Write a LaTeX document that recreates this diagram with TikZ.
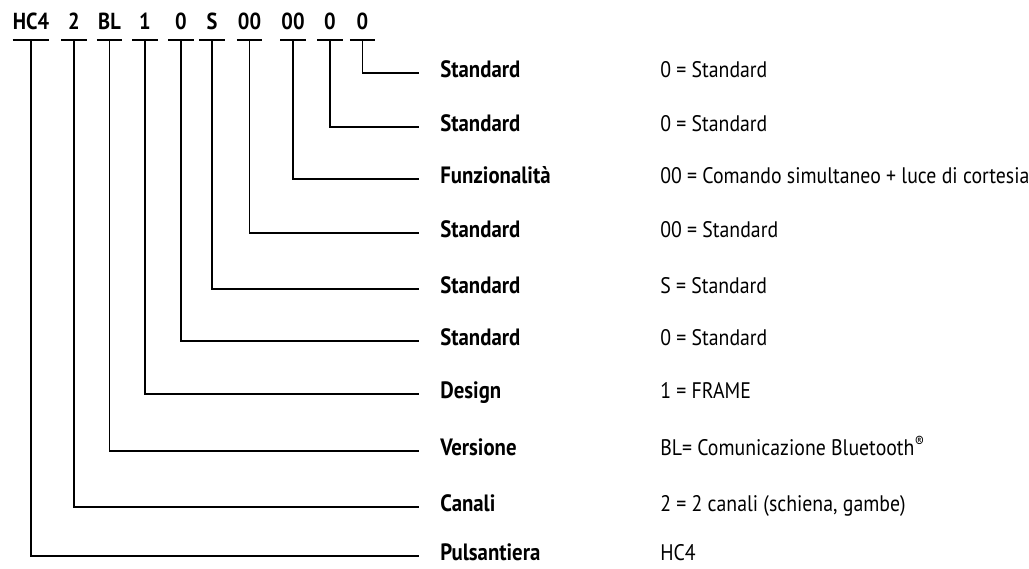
\documentclass[tikz,border=0pt]{standalone}
\usepackage{fontspec}
\setmainfont{PT Sans}[FakeStretch=0.88]
\begin{document}
\begin{tikzpicture}[
    x=0.025cm, y=-0.025cm,
    code/.style={anchor=south, font=\bfseries\fontsize{16.5}{19}\selectfont, inner xsep=0pt, inner ysep=7pt, minimum width=0.62cm},
    key/.style={anchor=west, font=\bfseries\fontsize{16.8}{19}\selectfont, inner xsep=15pt, inner ysep=0pt, text height=11pt, text depth=4pt},
    desc/.style={anchor=west, font=\fontsize{16}{19}\selectfont, inner sep=0pt, text height=11pt, text depth=4pt},
    bar/.style={line width=2pt},
    link/.style={line width=0.9pt}
]
    \useasboundingbox (0,0) rectangle (1029,569);

    % code segments
    \node[code] (hc4) at (31,40) {HC4};
    \node[code] (ch) at (74,40) {2};
    \node[code] (ver) at (109.5,40) {BL};
    \node[code] (des) at (145,40) {1};
    \node[code] (stdA) at (181,40) {0};
    \node[code] (stdB) at (212,40) {S};
    \node[code] (stdC) at (249.5,40) {00};
    \node[code] (fun) at (293,40) {00};
    \node[code] (stdD) at (330,40) {0};
    \node[code] (stdE) at (362.5,40) {0};
    \foreach \n in {hc4,ch,ver,des,stdA,stdB,stdC,fun,stdD,stdE}
        \draw[bar] (\n.south west) -- (\n.south east);

    % keys
    \node[key] (kE) at (419,73) {Standard};
    \node[key] (kD) at (419,127) {Standard};
    \node[key] (kfun) at (419,179) {Funzionalità};
    \node[key] (kC) at (419,233) {Standard};
    \node[key] (kB) at (419,289) {Standard};
    \node[key] (kA) at (419,341) {Standard};
    \node[key] (kdes) at (419,394) {Design};
    \node[key] (kver) at (419,451) {Versione};
    \node[key] (kch) at (419,507) {Canali};
    \node[key] (khc4) at (419,556) {Pulsantiera};

    % values
    \node[desc] (vE) at (660,73) {0 = Standard};
    \node[desc] (vD) at (660,127) {0 = Standard};
    \node[desc] (vfun) at (660,179) {00 = Comando simultaneo + luce di cortesia};
    \node[desc] (vC) at (660,233) {00 = Standard};
    \node[desc] (vB) at (660,289) {S = Standard};
    \node[desc] (vA) at (660,341) {0 = Standard};
    \node[desc] (vdes) at (660,394) {1 = FRAME};
    \node[desc] (vver) at (660,451) {BL= Comunicazione Bluetooth\textsuperscript{®}};
    \node[desc] (vch) at (660,507) {2 = 2 canali (schiena, gambe)};
    \node[desc] (vhc4) at (660,556) {HC4};

    % connectors
    \draw[link] (stdE.south) |- (kE.west);
    \draw[link] (stdD.south) |- (kD.west);
    \draw[link] (fun.south) |- (kfun.west);
    \draw[link] (stdC.south) |- (kC.west);
    \draw[link] (stdB.south) |- (kB.west);
    \draw[link] (stdA.south) |- (kA.west);
    \draw[link] (des.south) |- (kdes.west);
    \draw[link] (ver.south) |- (kver.west);
    \draw[link] (ch.south) |- (kch.west);
    \draw[link] (hc4.south) |- (khc4.west);
\end{tikzpicture}
\end{document}
